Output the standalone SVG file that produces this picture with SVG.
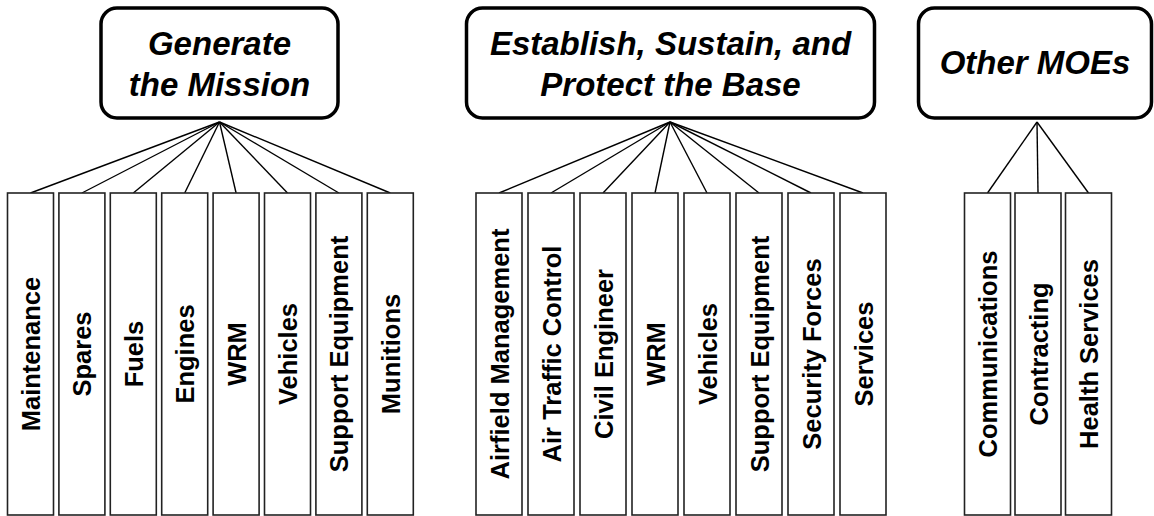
<svg xmlns="http://www.w3.org/2000/svg" width="1154" height="516" viewBox="0 0 1154 516">
<style>
.head{fill:#fff;stroke:#000;stroke-width:3.5}
.ht{font-family:"Liberation Sans",Arial,sans-serif;font-size:33px;font-weight:bold;font-style:italic;text-anchor:middle;fill:#000}
.leaf{fill:#fff;stroke:#222;stroke-width:1.6}
.lt{font-family:"Liberation Sans",Arial,sans-serif;font-size:25.5px;font-weight:bold;text-anchor:middle;fill:#000}
.conn line{stroke:#000;stroke-width:1.4}
</style>
<rect width="1154" height="516" fill="#fff"/>
<g class="conn">
<line x1="219.5" y1="122" x2="30.5" y2="193"/>
<line x1="219.5" y1="122" x2="81.9" y2="193"/>
<line x1="219.5" y1="122" x2="133.3" y2="193"/>
<line x1="219.5" y1="122" x2="184.7" y2="193"/>
<line x1="219.5" y1="122" x2="236.1" y2="193"/>
<line x1="219.5" y1="122" x2="287.5" y2="193"/>
<line x1="219.5" y1="122" x2="338.9" y2="193"/>
<line x1="219.5" y1="122" x2="390.3" y2="193"/>
<line x1="670" y1="122" x2="499" y2="193"/>
<line x1="670" y1="122" x2="551" y2="193"/>
<line x1="670" y1="122" x2="603" y2="193"/>
<line x1="670" y1="122" x2="655" y2="193"/>
<line x1="670" y1="122" x2="707" y2="193"/>
<line x1="670" y1="122" x2="759" y2="193"/>
<line x1="670" y1="122" x2="811" y2="193"/>
<line x1="670" y1="122" x2="863" y2="193"/>
<line x1="1037" y1="122" x2="987.5" y2="193"/>
<line x1="1037" y1="122" x2="1038" y2="193"/>
<line x1="1037" y1="122" x2="1088.5" y2="193"/>
</g>
<g id="generate-mission">
<rect class="head" x="101" y="8" width="237" height="110" rx="16"/>
<text class="ht" x="219.5" y="55">Generate</text>
<text class="ht" x="219.5" y="96">the Mission</text>
</g>
<g id="establish-base">
<rect class="head" x="466.5" y="8" width="408" height="110" rx="16"/>
<text class="ht" x="670.5" y="55">Establish, Sustain, and</text>
<text class="ht" x="670.5" y="96">Protect the Base</text>
</g>
<g id="other-moes">
<rect class="head" x="918.5" y="8" width="233" height="110" rx="16"/>
<text class="ht" x="1035" y="74">Other MOEs</text>
</g>
<g id="g1-maintenance"><rect class="leaf" x="7.5" y="193" width="46" height="322"/><text class="lt" transform="translate(40,354) rotate(-90)">Maintenance</text></g>
<g id="g1-spares"><rect class="leaf" x="58.9" y="193" width="46" height="322"/><text class="lt" transform="translate(91.4,354) rotate(-90)">Spares</text></g>
<g id="g1-fuels"><rect class="leaf" x="110.3" y="193" width="46" height="322"/><text class="lt" transform="translate(142.8,354) rotate(-90)">Fuels</text></g>
<g id="g1-engines"><rect class="leaf" x="161.7" y="193" width="46" height="322"/><text class="lt" transform="translate(194.2,354) rotate(-90)">Engines</text></g>
<g id="g1-wrm"><rect class="leaf" x="213.1" y="193" width="46" height="322"/><text class="lt" transform="translate(245.6,354) rotate(-90)">WRM</text></g>
<g id="g1-vehicles"><rect class="leaf" x="264.5" y="193" width="46" height="322"/><text class="lt" transform="translate(297,354) rotate(-90)">Vehicles</text></g>
<g id="g1-support"><rect class="leaf" x="315.9" y="193" width="46" height="322"/><text class="lt" transform="translate(348.4,354) rotate(-90)">Support Equipment</text></g>
<g id="g1-munitions"><rect class="leaf" x="367.3" y="193" width="46" height="322"/><text class="lt" transform="translate(399.8,354) rotate(-90)">Munitions</text></g>
<g id="g2-airfield"><rect class="leaf" x="476" y="193" width="46" height="322"/><text class="lt" transform="translate(508.5,354) rotate(-90)">Airfield Management</text></g>
<g id="g2-atc"><rect class="leaf" x="528" y="193" width="46" height="322"/><text class="lt" transform="translate(560.5,354) rotate(-90)">Air Traffic Control</text></g>
<g id="g2-civil"><rect class="leaf" x="580" y="193" width="46" height="322"/><text class="lt" transform="translate(612.5,354) rotate(-90)">Civil Engineer</text></g>
<g id="g2-wrm"><rect class="leaf" x="632" y="193" width="46" height="322"/><text class="lt" transform="translate(664.5,354) rotate(-90)">WRM</text></g>
<g id="g2-vehicles"><rect class="leaf" x="684" y="193" width="46" height="322"/><text class="lt" transform="translate(716.5,354) rotate(-90)">Vehicles</text></g>
<g id="g2-support"><rect class="leaf" x="736" y="193" width="46" height="322"/><text class="lt" transform="translate(768.5,354) rotate(-90)">Support Equipment</text></g>
<g id="g2-security"><rect class="leaf" x="788" y="193" width="46" height="322"/><text class="lt" transform="translate(820.5,354) rotate(-90)">Security Forces</text></g>
<g id="g2-services"><rect class="leaf" x="840" y="193" width="46" height="322"/><text class="lt" transform="translate(872.5,354) rotate(-90)">Services</text></g>
<g id="g3-comm"><rect class="leaf" x="964.5" y="193" width="46" height="322"/><text class="lt" transform="translate(997,354) rotate(-90)">Communications</text></g>
<g id="g3-contracting"><rect class="leaf" x="1015" y="193" width="46" height="322"/><text class="lt" transform="translate(1047.5,354) rotate(-90)">Contracting</text></g>
<g id="g3-health"><rect class="leaf" x="1065.5" y="193" width="46" height="322"/><text class="lt" transform="translate(1098,354) rotate(-90)">Health Services</text></g>
</svg>
